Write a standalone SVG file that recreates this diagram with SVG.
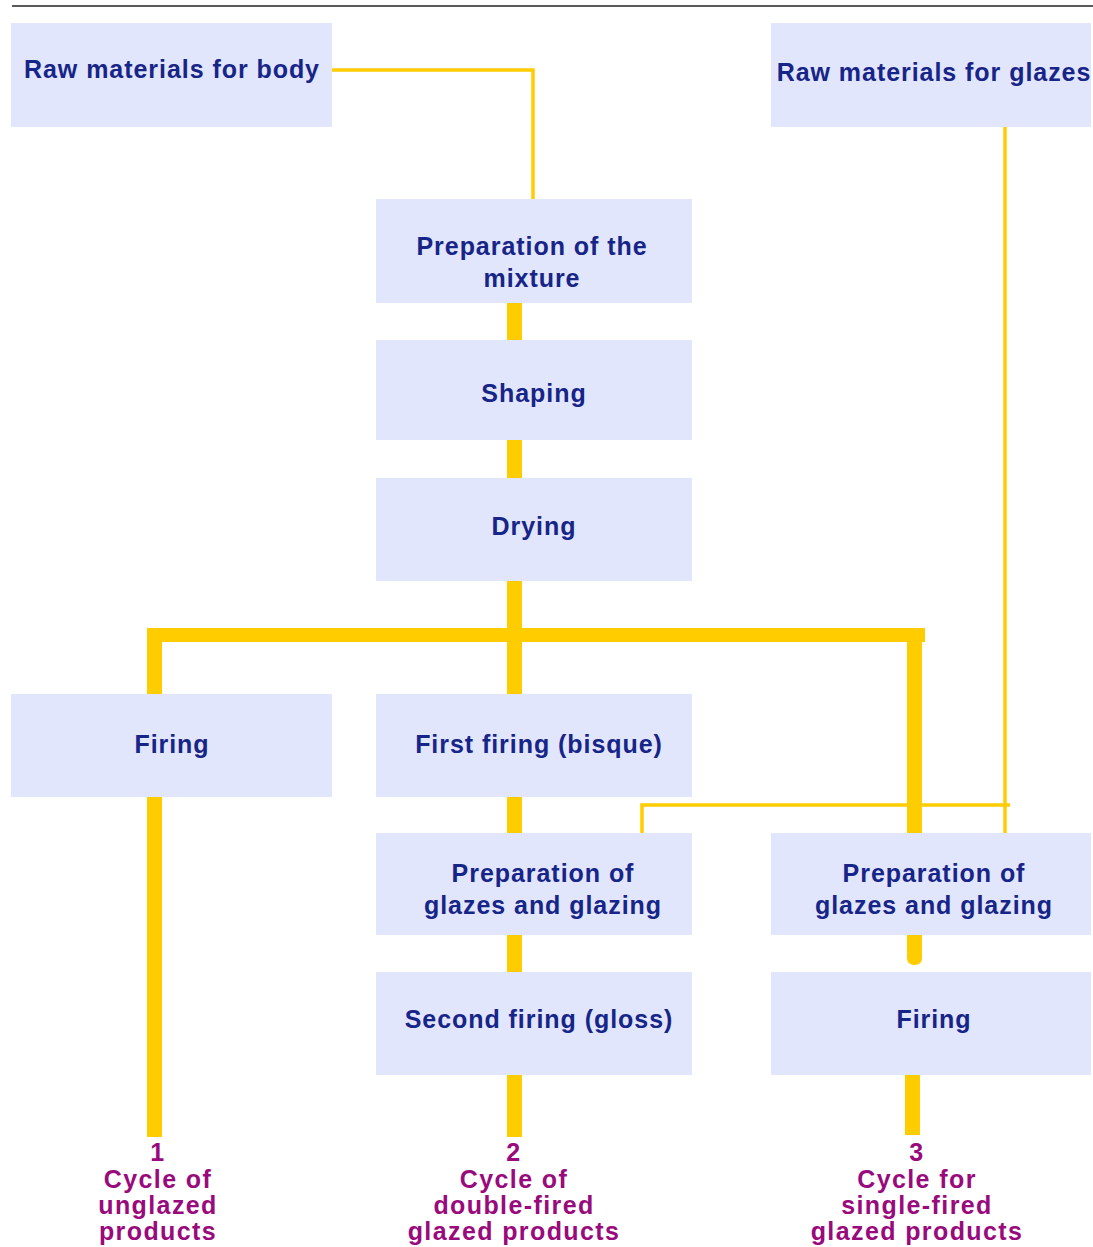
<svg xmlns="http://www.w3.org/2000/svg" width="1093" height="1247" viewBox="0 0 1093 1247">
<style>
.box{fill:#E1E6FC}
.t{font-family:"Liberation Sans",Arial,sans-serif;font-weight:bold;font-size:25px;letter-spacing:0.95px;fill:#172488;text-anchor:middle}
.lab{font-family:"Liberation Sans",Arial,sans-serif;font-weight:bold;font-size:25px;letter-spacing:1.4px;fill:#990A7C;text-anchor:middle}
.thick{fill:#FFCC00}
.thin{fill:none;stroke:#FFCC00;stroke-width:3.5}
</style>
<rect width="1093" height="1247" fill="#fff"/>
<line x1="12" y1="6" x2="1093" y2="6" stroke="#222" stroke-width="1.5"/>
<g id="connectors">
<polyline class="thin" points="332,70 533,70 533,199"/>
<polyline class="thin" points="1005,127 1005,833"/>
<polyline class="thin" points="1010,805 642,805 642,833"/>
<rect class="thick" x="507" y="303" width="15" height="37"/>
<rect class="thick" x="507" y="440" width="15" height="38"/>
<rect class="thick" x="507" y="581" width="15" height="113"/>
<rect class="thick" x="147" y="628" width="778" height="14"/>
<rect class="thick" x="147" y="628" width="15" height="66"/>
<rect class="thick" x="907" y="628" width="15" height="205"/>
<rect class="thick" x="507" y="797" width="15" height="36"/>
<rect class="thick" x="507" y="935" width="15" height="37"/>
<rect class="thick" x="507" y="1075" width="15" height="62"/>
<rect class="thick" x="147" y="797" width="15" height="340"/>
<path class="thick" d="M907,935 H922 V958 Q922,965 914.5,965 Q907,965 907,958 Z"/>
<rect class="thick" x="905" y="1075" width="15" height="60"/>
</g>
<g id="raw-body"><rect class="box" x="11" y="23" width="321" height="104"/><text class="t" x="172" y="78">Raw materials for body</text></g>
<g id="raw-glazes"><rect class="box" x="771" y="23" width="320" height="104"/><text class="t" x="934" y="81">Raw materials for glazes</text></g>
<g id="prep-mixture"><rect class="box" x="376" y="199" width="316" height="104"/><text class="t" x="532" y="255">Preparation of the</text><text class="t" x="532" y="287">mixture</text></g>
<g id="shaping"><rect class="box" x="376" y="340" width="316" height="100"/><text class="t" x="534" y="402">Shaping</text></g>
<g id="drying"><rect class="box" x="376" y="478" width="316" height="103"/><text class="t" x="534" y="535">Drying</text></g>
<g id="firing-1"><rect class="box" x="11" y="694" width="321" height="103"/><text class="t" x="172" y="753">Firing</text></g>
<g id="first-firing"><rect class="box" x="376" y="694" width="316" height="103"/><text class="t" x="539" y="753">First firing (bisque)</text></g>
<g id="prep-glazes-2"><rect class="box" x="376" y="833" width="316" height="102"/><text class="t" x="543" y="882">Preparation of</text><text class="t" x="543" y="914">glazes and glazing</text></g>
<g id="second-firing"><rect class="box" x="376" y="972" width="316" height="103"/><text class="t" x="539" y="1028">Second firing (gloss)</text></g>
<g id="prep-glazes-3"><rect class="box" x="771" y="833" width="320" height="102"/><text class="t" x="934" y="882">Preparation of</text><text class="t" x="934" y="914">glazes and glazing</text></g>
<g id="firing-3"><rect class="box" x="771" y="972" width="320" height="103"/><text class="t" x="934" y="1028">Firing</text></g>
<g id="label-1"><text class="lab" x="158" y="1161">1</text><text class="lab" x="158" y="1188">Cycle of</text><text class="lab" x="158" y="1214">unglazed</text><text class="lab" x="158" y="1240">products</text></g>
<g id="label-2"><text class="lab" x="514" y="1161">2</text><text class="lab" x="514" y="1188">Cycle of</text><text class="lab" x="514" y="1214">double-fired</text><text class="lab" x="514" y="1240">glazed products</text></g>
<g id="label-3"><text class="lab" x="917" y="1161">3</text><text class="lab" x="917" y="1188">Cycle for</text><text class="lab" x="917" y="1214">single-fired</text><text class="lab" x="917" y="1240">glazed products</text></g>
</svg>
